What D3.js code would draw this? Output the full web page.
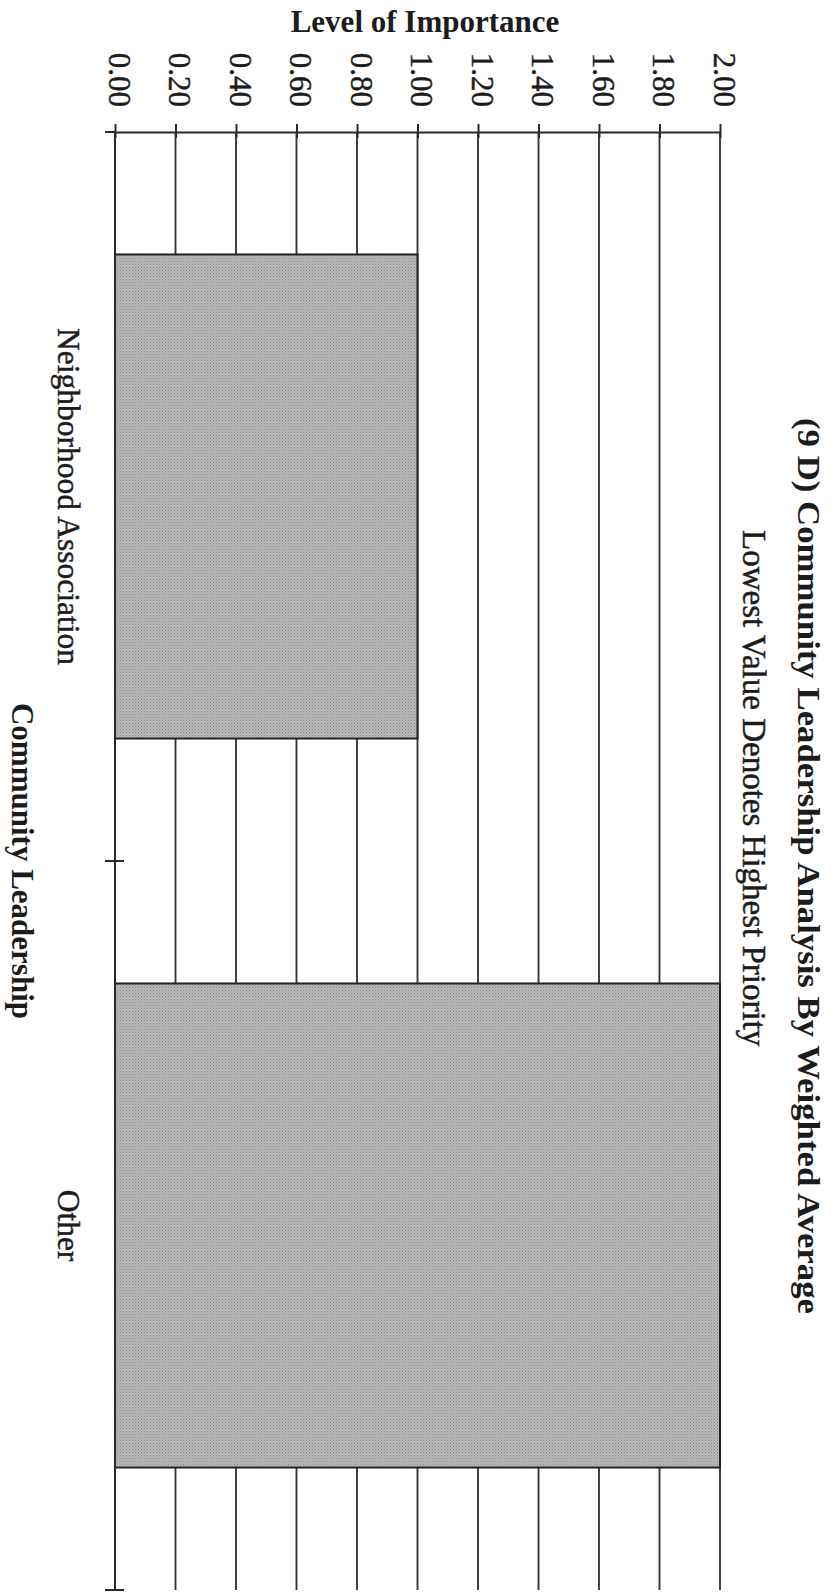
<!DOCTYPE html>
<html>
<head>
<meta charset="utf-8">
<script src="https://cdn.jsdelivr.net/npm/d3@7"></script>
<style>
  html, body { margin: 0; padding: 0; background: #ffffff; }
  svg { display: block; }
  text { font-family: "Liberation Serif", "Times New Roman", serif; fill: #1c1c1c; }
  text.heavy { stroke: #1c1c1c; stroke-width: 0.45px; }
</style>
</head>
<body>
<svg id="chart" width="833" height="1593"></svg>
<script>
// ---- data ----
const categories = ["Neighborhood Association", "Other"];
const weightedAverage = [1.00, 2.00];
const valueTicks = [0.00, 0.20, 0.40, 0.60, 0.80, 1.00, 1.20, 1.40, 1.60, 1.80, 2.00];
const titleText = "(9 D) Community Leadership Analysis By Weighted Average";
const subtitleText = "Lowest Value Denotes Highest Priority";
const valueAxisTitle = "Level of Importance";
const categoryAxisTitle = "Community Leadership";

// ---- layout (page is a landscape chart turned a quarter clockwise) ----
const plot = { left: 115, right: 720, top: 132, bottom: 1590 };
const ink = "#2a2a2a";

const svg = d3.select("#chart");

// halftone-like grey for the bars
const defs = svg.append("defs");
const pat = defs.append("pattern")
  .attr("id", "halftone").attr("patternUnits", "userSpaceOnUse")
  .attr("width", 3).attr("height", 3);
pat.append("rect").attr("width", 3).attr("height", 3).attr("fill", "#b9b9b9");
pat.append("rect").attr("x", 0).attr("y", 0).attr("width", 1).attr("height", 1).attr("fill", "#878787");
pat.append("rect").attr("x", 1.5).attr("y", 1.5).attr("width", 1).attr("height", 1).attr("fill", "#959595");

const x = d3.scaleLinear().domain([0, 2]).range([plot.left, plot.right]);
const y = d3.scaleBand().domain(categories)
  .range([plot.top, plot.bottom])
  .paddingInner(0.336).paddingOuter(0.168);

// vertical grid lines at every value tick
svg.append("g").selectAll("line")
  .data(valueTicks.filter(v => v > 0))
  .join("line")
  .attr("x1", d => x(d)).attr("x2", d => x(d))
  .attr("y1", plot.top).attr("y2", plot.bottom)
  .attr("stroke", "#383838").attr("stroke-width", 1.9);

// bars
svg.append("g").selectAll("rect")
  .data(categories.map((c, i) => ({ c, v: weightedAverage[i] })))
  .join("rect")
  .attr("x", x(0))
  .attr("y", d => y(d.c))
  .attr("width", d => x(d.v) - x(0))
  .attr("height", y.bandwidth())
  .attr("fill", "url(#halftone)")
  .attr("stroke", "#222").attr("stroke-width", 2);

// value axis along the top
const valueAxis = d3.axisTop(x)
  .tickValues(valueTicks)
  .tickFormat(d3.format(".2f"))
  .tickSizeInner(8).tickSizeOuter(0);
const gx = svg.append("g")
  .attr("transform", `translate(0,${plot.top})`)
  .call(valueAxis);
gx.select(".domain").attr("stroke", ink).attr("stroke-width", 2);
gx.selectAll(".tick line").attr("stroke", ink).attr("stroke-width", 2).attr("y2", -8).attr("y1", 6);
gx.selectAll(".tick text")
  .attr("class", "heavy")
  .attr("x", null).attr("y", null).attr("dy", null)
  .attr("transform", "translate(-7,-25) rotate(90)")
  .attr("text-anchor", "end")
  .style("font-family", "'Liberation Serif', serif")
  .style("font-size", "31px")
  .attr("fill", "#1c1c1c");

// category axis down the left edge, ticks at the band boundaries
const step = y.step();
const boundaries = [plot.top].concat(categories.map(c => y(c) + y.bandwidth() + y.paddingInner() * step / 2));
boundaries[boundaries.length - 1] = plot.bottom;
const gy = svg.append("g");
gy.append("line")
  .attr("x1", plot.left).attr("x2", plot.left)
  .attr("y1", plot.top).attr("y2", plot.bottom)
  .attr("stroke", ink).attr("stroke-width", 2);
gy.selectAll("line.tick")
  .data(boundaries)
  .join("line").attr("class", "tick")
  .attr("x1", plot.left - 10).attr("x2", (d, i) => i === 0 ? plot.left : plot.left + 9)
  .attr("y1", d => d).attr("y2", d => d)
  .attr("stroke", ink).attr("stroke-width", 2);

// category labels
svg.append("g").selectAll("text")
  .data(categories)
  .join("text")
  .attr("class", "heavy")
  .attr("transform", d => `translate(58,${y(d) + y.bandwidth() / 2}) rotate(90)`)
  .attr("text-anchor", "middle")
  .style("font-size", "31.5px")
  .text(d => d);

// axis titles
svg.append("text")
  .attr("x", 425).attr("y", 31.5)
  .attr("text-anchor", "middle")
  .style("font-size", "31px").style("font-weight", "bold")
  .text(valueAxisTitle);

svg.append("text")
  .attr("transform", `translate(12,${(plot.top + plot.bottom) / 2}) rotate(90)`)
  .attr("text-anchor", "middle")
  .style("font-size", "31px").style("font-weight", "bold")
  .text(categoryAxisTitle);

// chart title and subtitle on the right edge
svg.append("text")
  .attr("transform", "translate(798,418) rotate(90)")
  .attr("text-anchor", "start")
  .attr("textLength", 896).attr("lengthAdjust", "spacingAndGlyphs")
  .style("font-size", "32px").style("font-weight", "bold")
  .text(titleText);

svg.append("text")
  .attr("class", "heavy")
  .attr("transform", "translate(743,530) rotate(90)")
  .attr("text-anchor", "start")
  .style("font-size", "33px")
  .text(subtitleText);
</script>
</body>
</html>
